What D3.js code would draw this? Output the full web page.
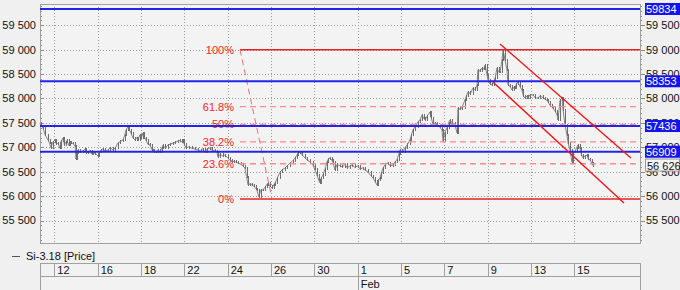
<!DOCTYPE html>
<html>
<head>
<meta charset="utf-8">
<script src="https://cdn.jsdelivr.net/npm/d3@7"></script>
<style>
  body { margin: 0; background: #f0f0f0; }
  svg { display: block; font-family: "Liberation Sans", Arial, sans-serif; font-size: 11px; }
</style>
</head>
<body>
<script>
/* global d3 */

const width = 680
const height = 290
const plot = { left: 40, right: 640, top: 4, bottom: 243 }

// x is counted in trading days, 0 = Jan 12
const dayTicks = [0, 2, 4, 6, 8, 10, 12, 14, 16, 18, 20, 22, 24]
const dayLabels = ['12', '16', '18', '22', '24', '26', '30', '1', '5', '7', '9', '13', '15']
const monthTick = 14
const monthLabel = 'Feb'
const priceTicks = [55500, 56000, 56500, 57000, 57500, 58000, 58500, 59000, 59500]

const levels = [59834, 58353, 57436, 56909]
const lastPrice = 56626

const fibHigh = 59000
const fibLow = 55941
const fibRatios = [1, 0.618, 0.5, 0.382, 0.236, 0]
const fibLabels = ['100%', '61.8%', '50%', '38.2%', '23.6%', '0%']
const fibStart = 8.57
const fibEnd = 10.05

const channelUpper = [[20.57, 59117], [26.61, 56781]]
const channelLower = [[20.24, 58338], [26.29, 55859]]

const seriesName = 'Si-3.18 [Price]'
const times = [
  -0.66, -0.60, -0.52, -0.42, -0.29, -0.22, -0.15, -0.08, 0.03, 0.10, 0.17, 0.25, 0.32, 0.40, 0.47, 0.52, 0.59, 0.66, 0.72, 0.77,
  0.85, 0.96, 1.00, 1.04, 1.09, 1.20, 1.32, 1.40, 1.48, 1.56, 1.65, 1.72, 1.79, 1.90, 2.02, 2.08, 2.16, 2.25, 2.35, 2.48,
  2.58, 2.70, 2.80, 2.94, 3.05, 3.17, 3.25, 3.31, 3.40, 3.47, 3.54, 3.62, 3.72, 3.80, 3.86, 3.95, 4.02, 4.09, 4.16, 4.23,
  4.32, 4.42, 4.50, 4.55, 4.62, 4.69, 4.78, 4.88, 4.95, 5.02, 5.10, 5.25, 5.35, 5.48, 5.58, 5.71, 5.80, 5.88, 5.94, 6.00,
  6.08, 6.20, 6.35, 6.50, 6.63, 6.75, 6.85, 6.95, 7.05, 7.18, 7.30, 7.42, 7.51, 7.55, 7.65, 7.78, 7.88, 8.00, 8.10, 8.20,
  8.30, 8.40, 8.48, 8.60, 8.70, 8.80, 8.87, 8.94, 9.03, 9.12, 9.22, 9.30, 9.35, 9.44, 9.52, 9.63, 9.72, 9.80, 9.86, 9.95,
  10.05, 10.12, 10.19, 10.30, 10.42, 10.52, 10.65, 10.75, 10.88, 11.00, 11.11, 11.20, 11.25, 11.34, 11.45, 11.57, 11.68, 11.80, 11.94, 12.02,
  12.12, 12.20, 12.26, 12.33, 12.40, 12.50, 12.58, 12.65, 12.72, 12.80, 12.86, 12.95, 13.05, 13.18, 13.30, 13.41, 13.52, 13.64, 13.75, 13.87,
  14.00, 14.10, 14.24, 14.36, 14.48, 14.60, 14.71, 14.80, 14.89, 14.96, 15.03, 15.10, 15.17, 15.28, 15.40, 15.50, 15.63, 15.72, 15.81, 15.90,
  15.95, 16.05, 16.18, 16.30, 16.41, 16.48, 16.55, 16.65, 16.78, 16.88, 16.97, 17.04, 17.11, 17.22, 17.34, 17.40, 17.48, 17.56, 17.66, 17.78,
  17.89, 17.94, 18.02, 18.12, 18.20, 18.26, 18.36, 18.49, 18.59, 18.63, 18.72, 18.81, 18.95, 19.02, 19.09, 19.20, 19.32, 19.42, 19.51, 19.55,
  19.65, 19.74, 19.82, 19.88, 19.97, 20.01, 20.10, 20.20, 20.28, 20.34, 20.43, 20.50, 20.57, 20.66, 20.71, 20.80, 20.89, 20.94, 21.03, 21.12,
  21.20, 21.26, 21.33, 21.40, 21.48, 21.58, 21.65, 21.72, 21.80, 21.86, 21.95, 22.09, 22.20, 22.32, 22.42, 22.55, 22.63, 22.73, 22.80, 22.87,
  22.95, 23.01, 23.10, 23.20, 23.24, 23.34, 23.43, 23.48, 23.57, 23.66, 23.71, 23.80, 23.89, 23.96, 24.03, 24.10, 24.17, 24.26, 24.33, 24.40,
  24.50, 24.58, 24.65, 24.72, 24.81, 24.86
]
const prices = [
  57490, 57440, 57396, 57250, 57150, 57080, 56990, 57100, 57150, 57060, 57088, 56980, 57120, 57191, 57050, 57100, 57140, 57040, 57110, 57088,
  57080, 57027, 56760, 56880, 56945, 56900, 56924, 56960, 56880, 56904, 56930, 56860, 56900, 56870, 56822, 56900, 56945, 56970, 56920, 56945,
  56990, 56950, 56980, 57088, 57120, 57150, 57250, 57355, 57416, 57350, 57293, 57200, 57150, 57200, 57150, 57252, 57200, 57293, 57200, 57150,
  57060, 57047, 56950, 56945, 56900, 56904, 56950, 56904, 56980, 57047, 56990, 57047, 57060, 57088, 57100, 57129, 57140, 57110, 57150, 57060,
  56986, 57010, 56980, 56960, 56945, 56920, 56970, 56904, 56960, 56986, 56950, 56920, 56904, 56801, 56860, 56820, 56842, 56780, 56740, 56699,
  56720, 56690, 56679, 56650, 56620, 56576, 56400, 56228, 56250, 56228, 56200, 56150, 56125, 55982, 56120, 56125, 56180, 56230, 56269, 56200,
  56166, 56230, 56269, 56380, 56494, 56540, 56576, 56620, 56679, 56720, 56781, 56840, 56883, 56904, 56840, 56781, 56740, 56699, 56638, 56550,
  56433, 56330, 56269, 56380, 56433, 56560, 56699, 56760, 56781, 56740, 56699, 56535, 56650, 56620, 56597, 56650, 56580, 56617, 56640, 56590,
  56620, 56560, 56576, 56530, 56494, 56420, 56371, 56300, 56228, 56330, 56371, 56480, 56576, 56650, 56679, 56620, 56638, 56700, 56740, 56860,
  56945, 56900, 56986, 57060, 57150, 57250, 57355, 57420, 57519, 57560, 57662, 57600, 57559, 57650, 57723, 57600, 57457, 57500, 57457, 57420,
  57355, 57129, 57300, 57396, 57500, 57559, 57500, 57457, 57293, 57805, 57780, 57805, 57969, 58050, 58133, 58100, 58215, 58180, 58277, 58584,
  58560, 58625, 58600, 58687, 58482, 58379, 58300, 58277, 58350, 58420, 58625, 58543, 58543, 58789, 58994, 58789, 58584, 58277, 58250, 58174,
  58230, 58215, 58300, 58338, 58250, 58174, 58050, 58010, 58050, 58010, 58080, 58072, 58010, 58010, 58060, 58010, 57990, 57969, 57920, 57867,
  57830, 57805, 57750, 57662, 57559, 57969, 58010, 57764, 57457, 57252, 57088, 56945, 56700, 56900, 56904, 56990, 57047, 56986, 56850, 56781,
  56830, 56842, 56760, 56740, 56679, 56626
]

const fmt = d3.formatLocale({ decimal: '.', thousands: ' ', grouping: [3], currency: ['', ''] }).format(',d')

const x = d3.scaleLinear().domain([-0.66, 27.03]).range([plot.left, plot.right])
const y = d3.scaleLinear().domain([55039, 59936]).range([plot.bottom, plot.top])

const svg = d3.select('body').append('svg')
  .attr('width', width)
  .attr('height', height)

// plot background + frame
svg.append('rect')
  .attr('x', plot.left).attr('y', plot.top)
  .attr('width', plot.right - plot.left).attr('height', plot.bottom - plot.top)
  .attr('fill', '#f3f3f3')

const grid = svg.append('g').attr('stroke', '#999').attr('stroke-dasharray', '1,2').attr('shape-rendering', 'crispEdges')
grid.selectAll('.hg').data(priceTicks).enter().append('line')
  .attr('x1', plot.left).attr('x2', plot.right)
  .attr('y1', d => Math.round(y(d)) + 0.5).attr('y2', d => Math.round(y(d)) + 0.5)
grid.selectAll('.vg').data(dayTicks).enter().append('line')
  .attr('y1', plot.top).attr('y2', plot.bottom)
  .attr('x1', d => Math.round(x(d)) + 0.5).attr('x2', d => Math.round(x(d)) + 0.5)

// minor ticks every 100
const minor = d3.range(55100, 59901, 100)
const ticks = svg.append('g').attr('stroke', '#888').attr('shape-rendering', 'crispEdges')
ticks.selectAll('.ml').data(minor).enter().append('line')
  .attr('x1', plot.left).attr('x2', d => plot.left + (d % 500 === 0 ? 4 : 2))
  .attr('y1', d => Math.round(y(d)) + 0.5).attr('y2', d => Math.round(y(d)) + 0.5)
ticks.selectAll('.mr').data(minor).enter().append('line')
  .attr('x1', plot.right).attr('x2', d => plot.right + (d % 500 === 0 ? 5 : 2))
  .attr('y1', d => Math.round(y(d)) + 0.5).attr('y2', d => Math.round(y(d)) + 0.5)

svg.append('rect')
  .attr('x', plot.left + 0.5).attr('y', plot.top + 0.5)
  .attr('width', plot.right - plot.left).attr('height', plot.bottom - plot.top)
  .attr('fill', 'none').attr('stroke', '#a0a0a0')

// price tick labels, both sides
svg.append('g').selectAll('text').data(priceTicks).enter().append('text')
  .attr('x', 36).attr('y', d => y(d)).attr('dy', '0.35em')
  .attr('text-anchor', 'end').attr('fill', '#111')
  .text(fmt)
svg.append('g').selectAll('text').data(priceTicks).enter().append('text')
  .attr('x', 646).attr('y', d => y(d)).attr('dy', '0.35em')
  .attr('fill', '#111')
  .text(fmt)

// price series: a thin line plus a bar per reading, spanning the move from the previous one
const line = d3.line()
  .x(function (d, i) { return x(times[i]) })
  .y(function (d) { return y(d) })
svg.append('path')
  .datum(prices)
  .attr('d', line)
  .attr('fill', 'none')
  .attr('stroke', '#858585')
  .attr('stroke-width', 1)
svg.append('g').attr('stroke', '#6e6e6e').attr('shape-rendering', 'crispEdges')
  .selectAll('line').data(prices.slice(1)).enter().append('line')
  .attr('x1', (d, i) => Math.round(x(times[i + 1])) + 0.5)
  .attr('x2', (d, i) => Math.round(x(times[i + 1])) + 0.5)
  .attr('y1', (d, i) => y(Math.max(d, prices[i])) - 1)
  .attr('y2', (d, i) => y(Math.min(d, prices[i])) + 1)

// fibonacci retracement
const fibValue = r => fibLow + r * (fibHigh - fibLow)
const fib = svg.append('g')
fib.selectAll('line').data(fibRatios).enter().append('line')
  .attr('x1', x(fibStart)).attr('x2', plot.right)
  .attr('y1', d => y(fibValue(d))).attr('y2', d => y(fibValue(d)))
  .attr('stroke', d => (d === 0 || d === 1) ? '#e82020' : '#ff8a8a')
  .attr('stroke-width', d => (d === 0 || d === 1) ? 1.6 : 1.3)
  .attr('stroke-dasharray', d => (d === 0 || d === 1) ? null : '6,4')
fib.selectAll('text').data(fibRatios).enter().append('text')
  .attr('x', x(fibStart) - 6).attr('y', d => y(fibValue(d))).attr('dy', '0.35em')
  .attr('text-anchor', 'end').attr('fill', '#f22')
  .text(function (d, i) { return fibLabels[i] })
fib.append('line')
  .attr('x1', x(fibStart)).attr('y1', y(fibHigh))
  .attr('x2', x(fibEnd)).attr('y2', y(fibLow))
  .attr('stroke', '#f07070').attr('stroke-width', 1).attr('stroke-dasharray', '6,4')

// horizontal levels
svg.append('g').selectAll('line').data(levels).enter().append('line')
  .attr('x1', plot.left).attr('x2', plot.right)
  .attr('y1', d => y(d)).attr('y2', d => y(d))
  .attr('stroke', '#2424e8').attr('stroke-width', 2)

// channel
svg.append('g').selectAll('line').data([channelUpper, channelLower]).enter().append('line')
  .attr('x1', d => x(d[0][0])).attr('y1', d => y(d[0][1]))
  .attr('x2', d => x(d[1][0])).attr('y2', d => y(d[1][1]))
  .attr('stroke', '#f01818').attr('stroke-width', 1.4)

// level labels
const lv = svg.append('g').selectAll('g').data(levels).enter().append('g')
  .attr('transform', d => 'translate(645,' + y(d) + ')')
lv.append('rect').attr('x', 0).attr('y', -6).attr('width', 35).attr('height', 12).attr('fill', '#1414f0')
lv.append('text').attr('x', 1).attr('dy', '0.36em').attr('fill', '#fff').text(d => d)

const lp = svg.append('g').attr('transform', 'translate(645,' + y(lastPrice) + ')')
lp.append('rect').attr('x', 0.5).attr('y', -6.5).attr('width', 34).attr('height', 12)
  .attr('fill', '#f4f4f4').attr('stroke', '#999')
lp.append('text').attr('x', 2).attr('dy', '0.36em').attr('fill', '#111').text(fmt(lastPrice))

// legend
svg.append('line').attr('x1', 12).attr('x2', 20).attr('y1', 256.5).attr('y2', 256.5).attr('stroke', '#555')
svg.append('text').attr('x', 26).attr('y', 256).attr('dy', '0.35em').attr('fill', '#111').text(seriesName)

// time axis band
const band = svg.append('g').attr('shape-rendering', 'crispEdges')
band.append('rect').attr('x', plot.left + 0.5).attr('y', 263.5)
  .attr('width', plot.right - plot.left).attr('height', 30)
  .attr('fill', '#f2f2f2').attr('stroke', '#a0a0a0')
band.append('line').attr('x1', plot.left).attr('x2', plot.right).attr('y1', 276.5).attr('y2', 276.5).attr('stroke', '#a0a0a0')
band.selectAll('.sep').data(dayTicks).enter().append('line')
  .attr('x1', d => Math.round(x(d)) + 0.5).attr('x2', d => Math.round(x(d)) + 0.5)
  .attr('y1', 263).attr('y2', 277).attr('stroke', '#a0a0a0')
band.append('line')
  .attr('x1', Math.round(x(monthTick)) + 0.5).attr('x2', Math.round(x(monthTick)) + 0.5)
  .attr('y1', 277).attr('y2', 290).attr('stroke', '#a0a0a0')
band.selectAll('text').data(dayTicks).enter().append('text')
  .attr('x', d => x(d) + 3).attr('y', 270).attr('dy', '0.35em').attr('fill', '#111')
  .text(function (d, i) { return dayLabels[i] })
band.append('text').attr('x', x(monthTick) + 3).attr('y', 284).attr('dy', '0.35em').attr('fill', '#111').text(monthLabel)
</script>
</body>
</html>
